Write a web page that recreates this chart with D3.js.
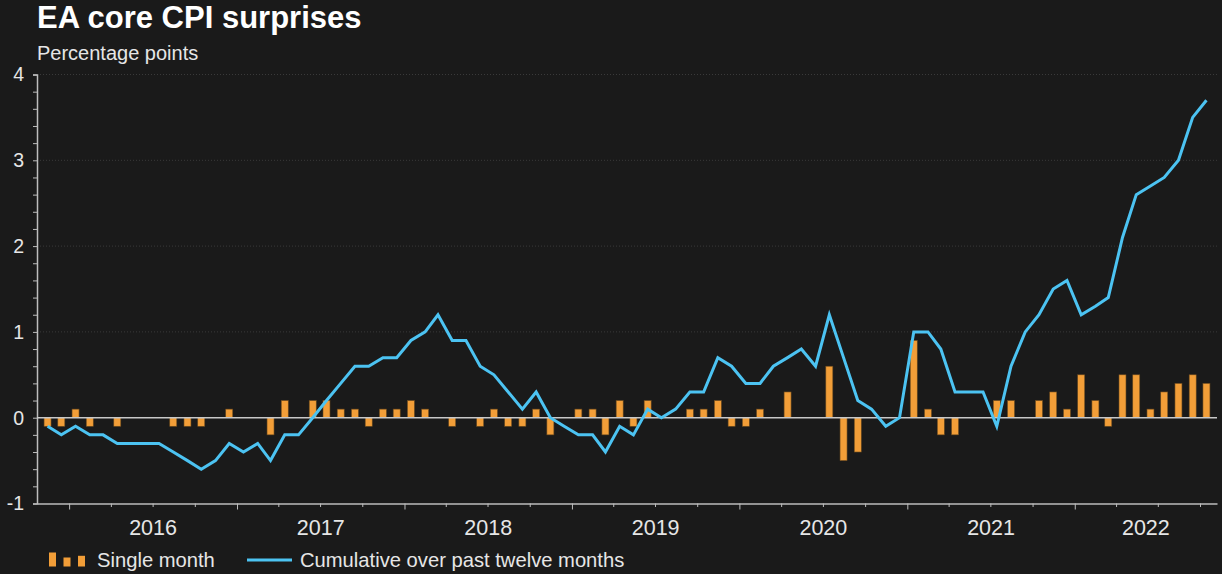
<!DOCTYPE html>
<html>
<head>
<meta charset="utf-8">
<script src="https://cdn.jsdelivr.net/npm/d3@7"></script>
<style>
    body { margin: 0; background: #1a1a1a; }
    svg { display: block; font-family: "Liberation Sans", Arial, sans-serif; }
</style>
</head>
<body>
<svg width="1222" height="574"></svg>
<script>
    // monthly observations, Nov 2015 .. Oct 2022
    const firstMonth = new Date(2015, 10, 1)
    const lastMonth = new Date(2022, 9, 1)

    const singleMonth = [
        -0.1, -0.1, 0.1, -0.1, 0, -0.1, 0, 0, 0, -0.1, -0.1, -0.1,
        0, 0.1, 0, 0, -0.2, 0.2, 0, 0.2, 0.2, 0.1, 0.1, -0.1,
        0.1, 0.1, 0.2, 0.1, 0, -0.1, 0, -0.1, 0.1, -0.1, -0.1, 0.1,
        -0.2, 0, 0.1, 0.1, -0.2, 0.2, -0.1, 0.2, 0, 0, 0.1, 0.1,
        0.2, -0.1, -0.1, 0.1, 0, 0.3, 0, 0, 0.6, -0.5, -0.4, 0,
        0, 0, 0.9, 0.1, -0.2, -0.2, 0, 0, 0.2, 0.2, 0, 0.2,
        0.3, 0.1, 0.5, 0.2, -0.1, 0.5, 0.5, 0.1, 0.3, 0.4, 0.5, 0.4
    ]

    const cumulative = [
        -0.1, -0.2, -0.1, -0.2, -0.2, -0.3, -0.3, -0.3, -0.3, -0.4, -0.5, -0.6,
        -0.5, -0.3, -0.4, -0.3, -0.5, -0.2, -0.2, 0.0, 0.2, 0.4, 0.6, 0.6,
        0.7, 0.7, 0.9, 1.0, 1.2, 0.9, 0.9, 0.6, 0.5, 0.3, 0.1, 0.3,
        0.0, -0.1, -0.2, -0.2, -0.4, -0.1, -0.2, 0.1, 0.0, 0.1, 0.3, 0.3,
        0.7, 0.6, 0.4, 0.4, 0.6, 0.7, 0.8, 0.6, 1.2, 0.7, 0.2, 0.1,
        -0.1, 0.0, 1.0, 1.0, 0.8, 0.3, 0.3, 0.3, -0.1, 0.6, 1.0, 1.2,
        1.5, 1.6, 1.2, 1.3, 1.4, 2.1, 2.6, 2.7, 2.8, 3.0, 3.5, 3.7
    ]

    const yLabels = [-1, 0, 1, 2, 3, 4]
    const yearLabels = [2016, 2017, 2018, 2019, 2020, 2021, 2022]
    const legendLabels = ["Single month", "Cumulative over past twelve months"]

    const months = d3.timeMonth.range(firstMonth, d3.timeMonth.offset(lastMonth, 1))
    const data = months.map((m, i) => ({
        date: d3.timeDay.offset(m, 14),
        bar: singleMonth[i],
        cum: cumulative[i]
    }))

    const svg = d3.select("svg")
    const left = 37, right = 1217

    svg.append("rect").attr("width", 1222).attr("height", 574).attr("fill", "#1a1a1a")

    const x = d3.scaleTime()
        .domain([new Date(2015, 9, 23), new Date(2022, 10, 7)])
        .range([left, right])
    const y = d3.scaleLinear().domain([-1, 4]).range([503.5, 74.5])

    // title
    svg.append("text").text("EA core CPI surprises")
        .attr("x", 37).attr("y", 27.5)
        .attr("fill", "#ffffff").attr("font-size", 31).attr("font-weight", "bold")
    svg.append("text").text("Percentage points")
        .attr("x", 37).attr("y", 60)
        .attr("fill", "#e6e6e6").attr("font-size", 20)

    // dotted gridlines
    svg.append("g").selectAll("line")
        .data(yLabels.filter(d => d > 0))
        .enter().append("line")
        .attr("x1", left).attr("x2", right)
        .attr("y1", d => y(d)).attr("y2", d => y(d))
        .attr("stroke", "#3a3a3a").attr("stroke-width", 1)
        .attr("stroke-dasharray", "1 2")

    // y axis
    const yAxis = svg.append("g")
        .attr("transform", `translate(${left},0)`)
        .call(d3.axisLeft(y).tickValues(d3.range(-1, 4.001, 0.2)).tickSize(4).tickFormat(""))
    yAxis.select(".domain").attr("stroke", "#bdbdbd").attr("stroke-width", 1.5)
    yAxis.selectAll(".tick line").attr("stroke", "#bdbdbd")

    svg.append("g").selectAll("text")
        .data(yLabels)
        .enter().append("text")
        .text(d => d)
        .attr("x", 24).attr("y", d => y(d))
        .attr("dy", "0.35em")
        .attr("text-anchor", "end")
        .attr("fill", "#e6e6e6").attr("font-size", 19.5)

    // x axis
    const xAxis = svg.append("g")
        .attr("transform", `translate(0,${y(-1)})`)
        .call(d3.axisBottom(x).ticks(d3.timeMonth.every(3)).tickSizeOuter(0).tickFormat(""))
    xAxis.select(".domain").attr("stroke", "#bdbdbd").attr("stroke-width", 1.5)
    xAxis.selectAll(".tick line")
        .attr("stroke", "#bdbdbd")
        .attr("y2", d => d.getMonth() === 0 ? 6 : 3.5)

    svg.append("g").selectAll("text")
        .data(yearLabels)
        .enter().append("text")
        .text(d => d)
        .attr("x", d => {
            const a = Math.max(x(new Date(d, 0, 1)), left)
            const b = Math.min(x(new Date(d + 1, 0, 1)), right)
            return (a + b) / 2
        })
        .attr("y", 535)
        .attr("text-anchor", "middle")
        .attr("fill", "#e6e6e6").attr("font-size", 21.5)

    // bars
    const bw = 7
    svg.append("g").selectAll("rect")
        .data(data.filter(d => d.bar !== 0))
        .enter().append("rect")
        .attr("x", d => x(d.date) - bw / 2)
        .attr("width", bw)
        .attr("y", d => y(Math.max(0, d.bar)))
        .attr("height", d => Math.abs(y(d.bar) - y(0)))
        .attr("fill", "#f29e38")
        .attr("stroke", "#6b4a1e").attr("stroke-width", 0.6)

    // zero line
    svg.append("line")
        .attr("x1", left).attr("x2", right)
        .attr("y1", y(0)).attr("y2", y(0))
        .attr("stroke", "#c8c8c8").attr("stroke-width", 1.5)

    // cumulative line
    const line = d3.line().x(d => x(d.date)).y(d => y(d.cum))
    svg.append("path")
        .datum(data)
        .attr("d", line)
        .attr("fill", "none")
        .attr("stroke", "#4cc3f2")
        .attr("stroke-width", 3)
        .attr("stroke-linejoin", "miter")

    // legend
    const lg = svg.append("g")
    const legendBars = [1.4, 0.9, 1.07]
    lg.selectAll("rect")
        .data(legendBars)
        .enter().append("rect")
        .attr("x", (d, i) => 49 + i * 14.5)
        .attr("width", 7)
        .attr("y", d => 566.5 - d * 10)
        .attr("height", d => d * 10)
        .attr("fill", "#f29e38")
    lg.append("text").text(legendLabels[0])
        .attr("x", 97).attr("y", 567)
        .attr("fill", "#e6e6e6").attr("font-size", 20.2)
    lg.append("line")
        .attr("x1", 247).attr("x2", 292)
        .attr("y1", 560).attr("y2", 560)
        .attr("stroke", "#4cc3f2").attr("stroke-width", 3)
    lg.append("text").text(legendLabels[1])
        .attr("x", 300).attr("y", 567)
        .attr("fill", "#e6e6e6").attr("font-size", 20.2)
</script>
</body>
</html>
